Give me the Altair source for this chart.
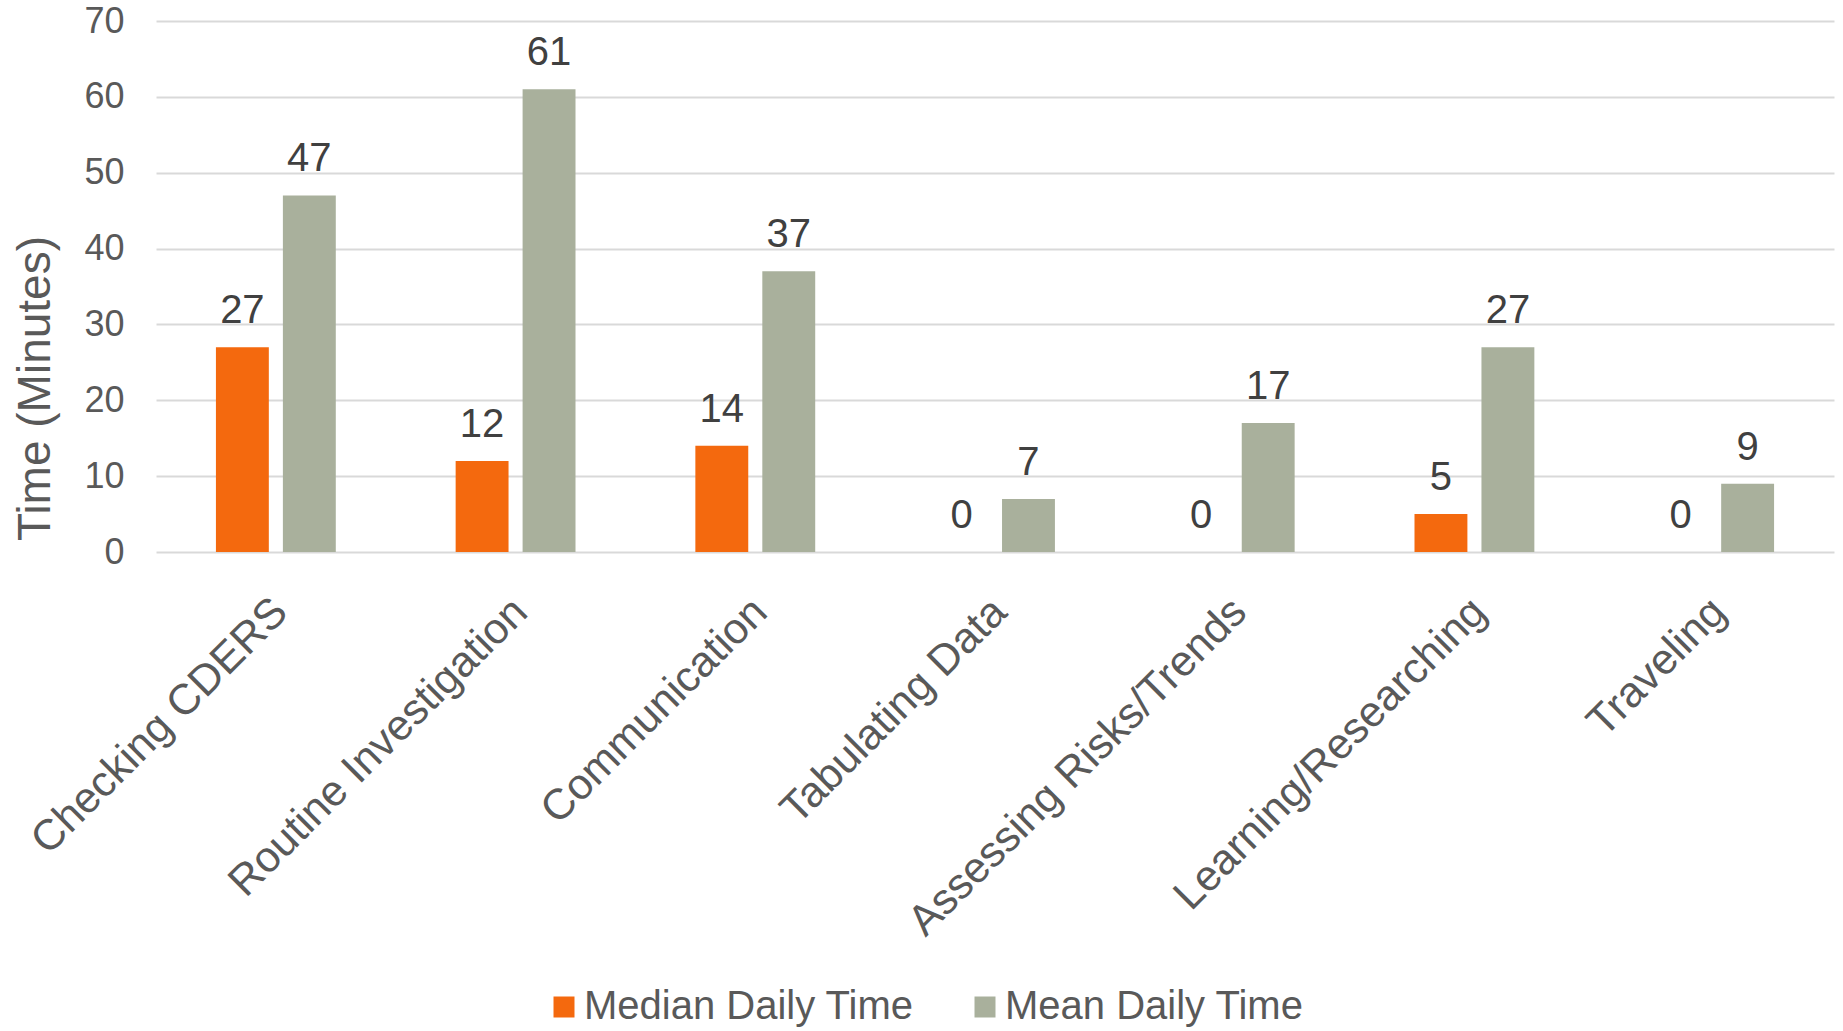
import altair as alt
import pandas as pd

categories = ["Checking CDERS", "Routine Investigation", "Communication", "Tabulating Data",
              "Assessing Risks/Trends", "Learning/Researching", "Traveling"]
median_vals = [27, 12, 14, 0, 0, 5, 0]
mean_vals = [47, 61, 37, 7, 17, 27, 9]
series = ["Median Daily Time", "Mean Daily Time"]
colors = ["#F4690E", "#A9B09C"]

rows = []
for c, m in zip(categories, median_vals):
    rows.append({"cat": c, "series": series[0], "val": m})
for c, m in zip(categories, mean_vals):
    rows.append({"cat": c, "series": series[1], "val": m})
df = pd.DataFrame(rows)

FONT = "Liberation Sans"

x = alt.X("cat:N", sort=categories, title=None,
          scale=alt.Scale(paddingInner=0.5, paddingOuter=0.25),
          axis=alt.Axis(labelAngle=-45, labelFontSize=43, labelFont=FONT, labelColor="#595959",
                        ticks=False, domain=False, labelPadding=38, labelOffset=-10,
                        labelLimit=1000))
xo = alt.XOffset("series:N", sort=series, scale=alt.Scale(paddingInner=0.21, paddingOuter=0))
y = alt.Y("val:Q", title="Time (Minutes)",
          scale=alt.Scale(domain=[0, 70], nice=False),
          axis=alt.Axis(values=[0, 10, 20, 30, 40, 50, 60, 70], labelFontSize=36, labelFont=FONT,
                        labelColor="#595959", ticks=False, domain=False, labelPadding=32,
                        gridColor="#D9D9D9", gridWidth=2, titleFontSize=46, titleFont=FONT,
                        titleFontWeight="normal", titleColor="#595959", titlePadding=24,
                        titleY=367, titleAnchor="middle"))

bars = alt.Chart(df).mark_bar().encode(
    x=x, xOffset=xo, y=y,
    color=alt.Color("series:N", sort=series,
                    scale=alt.Scale(domain=series, range=colors),
                    legend=alt.Legend(title=None, orient="none", legendX=388, legendY=966,
                                      direction="horizontal", symbolType="square", symbolSize=441,
                                      symbolStrokeWidth=0, labelFontSize=40, labelFont=FONT,
                                      labelColor="#595959", columnPadding=51, labelOffset=0,
                                      labelLimit=1000))
)

labels = alt.Chart(df).mark_text(baseline="bottom", dy=-16, fontSize=40, font=FONT, color="#404040").encode(
    x=alt.X("cat:N", sort=categories), xOffset=alt.XOffset("series:N", sort=series),
    y=alt.Y("val:Q"), text=alt.Text("val:Q")
)

chart = alt.layer(bars, labels).properties(
    width=1678, height=531,
    autosize=alt.AutoSizeParams(type="none"),
    padding={"left": 156, "top": 21, "right": 9, "bottom": 479}
).configure(background="white").configure_view(stroke=None, strokeWidth=0)

chart.save("out.html", embed_options={"renderer": "svg", "actions": False})
